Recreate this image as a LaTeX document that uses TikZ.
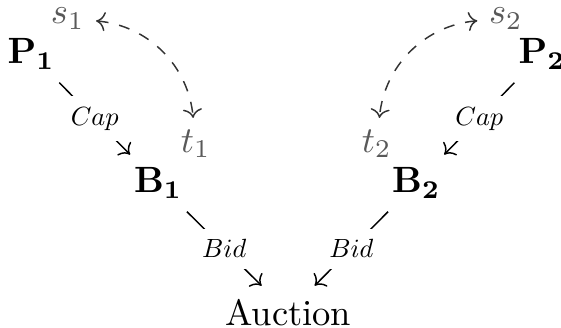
\documentclass[tikz,border=0pt]{standalone}
\usepackage{amsmath}
\usepackage{graphicx}
\usetikzlibrary{positioning, arrows.meta}
\tikzset{
    agent/.style = {inner sep=2pt},
    var/.style = {inner sep=2pt, text=black!65},
    arrow/.style = {->, shorten >=2pt, shorten <=2pt},
    swaparrow/.style = {<->, dashed, black!80, shorten >=1pt, shorten <=1pt},
    edgelabel/.style = {fill=white, inner sep=3pt},
}
\newcommand{\edgetext}[1]{\scalebox{0.72}{$#1$}}
\begin{document}
\begin{tikzpicture}
        \useasboundingbox (0,0) rectangle (5.39,-3.15);
        \node[agent] (P1) at (0.30,-0.52) {$\mathbf{P_1}$};
        \node[agent] (B1) at (1.52,-1.76) {$\mathbf{B_1}$};
        \node[agent] (B2) at (4.00,-1.76) {$\mathbf{B_2}$};
        \node[agent] (P2) at (5.21,-0.52) {$\mathbf{P_2}$};
        \node[agent] (A) at (2.77,-3.00) {Auction};
        \node[var] (s1) at (0.65,-0.18) {$s_1$};
        \node[var] (t1) at (1.88,-1.38) {$t_1$};
        \node[var] (s2) at (4.86,-0.18) {$s_2$};
        \node[var] (t2) at (3.62,-1.38) {$t_2$};
        \draw[arrow] (P1) -- node[edgelabel] {\edgetext{Cap}} (B1);
        \draw[arrow] (P2) -- node[edgelabel] {\edgetext{Cap}} (B2);
        \draw[arrow] (B1) -- node[edgelabel] {\edgetext{Bid}} (A);
        \draw[arrow] (B2) -- node[edgelabel] {\edgetext{Bid}} (A);
        \draw[swaparrow] (s1) to[bend left=40] (t1);
        \draw[swaparrow] (s2) to[bend right=40] (t2);
      \end{tikzpicture}
\end{document}
